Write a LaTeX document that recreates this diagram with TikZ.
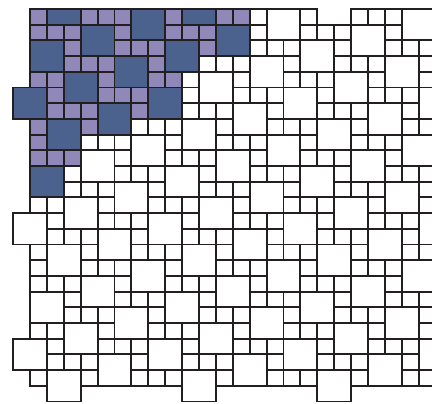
\documentclass[tikz,border=0pt]{standalone}
\definecolor{tileblue}{RGB}{75,98,143}
\definecolor{tilepurple}{RGB}{145,136,186}
\definecolor{tileline}{RGB}{35,31,32}
\begin{document}
\begin{tikzpicture}[x={(0.507cm,0cm)},y={(0cm,-0.471cm)},line width=1.7pt,draw=tileline]
        \useasboundingbox (-1.775,-0.573) rectangle (23.787,25.096);
        \clip (-1.775,-0.573) rectangle (23.787,25.096);
        \foreach \r in {0,...,23}
        \foreach \c in {-1,...,23}{
          \pgfmathtruncatemacro\f{mod(\c+3*\r+8,8)}
          \pgfmathtruncatemacro\m{{12,12,12,9,8,8,8,5,2,2,1,1,-9,-9,-9,-9,-9,-9,-9,-9,-9,-9,-9,-9}[\r]}
          \pgfmathtruncatemacro\s{and(\c>-1,or(\f==0,and(\f>2,\f<6)))}
          \ifnum\f=6
            \ifnum\c>\m \draw (\c,\r) rectangle ++(2,2);
            \else \filldraw[fill=tileblue] (\c,\r) rectangle ++(2,2); \fi
          \fi
          \ifnum\s=1
            \ifnum\c>\m \draw (\c,\r) rectangle ++(1,1);
            \else \filldraw[fill=tilepurple] (\c,\r) rectangle ++(1,1); \fi
          \fi
        }
        \filldraw[fill=tileblue] (1,0) rectangle (3,1);
        \filldraw[fill=tileblue] (9,0) rectangle (11,1);
        \end{tikzpicture}
\end{document}
